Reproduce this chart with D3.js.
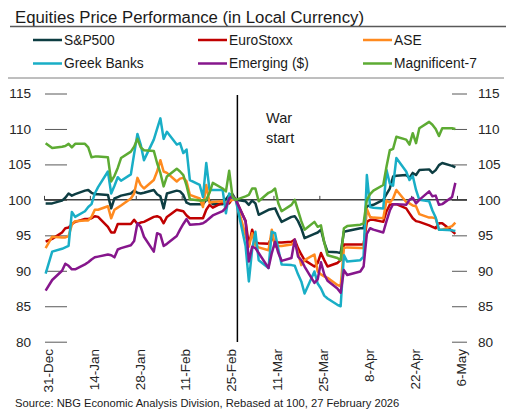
<!DOCTYPE html>
<html><head><meta charset="utf-8">
<script src="https://cdn.jsdelivr.net/npm/d3@7"></script>
<style>
body{margin:0;background:#fff;}
svg{display:block;font-family:"Liberation Sans",Arial,sans-serif;}
</style>
</head><body>
<svg id="chart" width="515" height="409"></svg>
<script>
// ---------------- DATA ----------------
const title = "Equities Price Performance (in Local Currency)";
const source = "Source: NBG Economic Analysis Division, Rebased at 100, 27 February 2026";
const warLabel = ["War", "start"];
const warDate = "2026-02-28";

const dates = [
  "2025-12-31","2026-01-02",
  "2026-01-05","2026-01-06","2026-01-07","2026-01-08","2026-01-09",
  "2026-01-12","2026-01-13","2026-01-14","2026-01-15","2026-01-16",
  "2026-01-19","2026-01-20","2026-01-21","2026-01-22","2026-01-23",
  "2026-01-26","2026-01-27","2026-01-28","2026-01-29","2026-01-30",
  "2026-02-02","2026-02-03","2026-02-04","2026-02-05","2026-02-06",
  "2026-02-09","2026-02-10","2026-02-11","2026-02-12","2026-02-13",
  "2026-02-16","2026-02-17","2026-02-18","2026-02-19","2026-02-20",
  "2026-02-23","2026-02-24","2026-02-25","2026-02-26","2026-02-27",
  "2026-03-02","2026-03-03","2026-03-04","2026-03-05","2026-03-06",
  "2026-03-09","2026-03-10","2026-03-11","2026-03-12","2026-03-13",
  "2026-03-16","2026-03-17","2026-03-18","2026-03-19","2026-03-20",
  "2026-03-23","2026-03-24","2026-03-25","2026-03-26","2026-03-27",
  "2026-03-30","2026-03-31","2026-04-01","2026-04-02",
  "2026-04-06","2026-04-07","2026-04-08","2026-04-09","2026-04-10",
  "2026-04-13","2026-04-14","2026-04-15","2026-04-16","2026-04-17",
  "2026-04-20","2026-04-21","2026-04-22","2026-04-23","2026-04-24",
  "2026-04-27","2026-04-28","2026-04-29","2026-04-30","2026-05-01",
  "2026-05-04","2026-05-05"
];

const sp500 = [
  99.5, 99.5,
  99.9, 100.3, 100.9, 100.6, 100.8,
  101.3, 101.4, 101.0, 100.8, 100.8,
  100.7, 98.8, 100.2, 100.4, 100.6,
  100.9, 101.3, 101.0, 100.9, 101.0,
  101.4, 100.8, 100.5, 98.8, 100.9,
  101.3, 101.2, 100.7, 99.6, 99.4,
  99.4, 99.4, 100.0, 99.9, 99.4,
  99.4, 100.1, 100.7, 100.8, 100.0,
  99.8, 99.3, 99.9, 99.5, 97.9,
  98.6, 98.7, 98.8, 97.8, 96.9,
  97.6, 97.7, 97.0, 96.0, 94.6,
  95.2, 95.4, 95.8, 94.0, 92.7,
  92.6, 92.5, 95.5, 95.6,
  96.0, 96.0, 99.1, 99.2, 99.3,
  100.0, 100.8, 101.6, 103.3, 103.4,
  103.5, 103.1, 103.8, 103.5, 104.2,
  104.3, 103.8, 104.2, 104.9, 105.2,
  104.8, 104.6
];

const euroStoxx = [
  94.1, 94.5,
  95.4, 96.0, 96.1, 96.6, 96.9,
  97.3, 97.3, 97.4, 97.7, 97.6,
  96.2, 95.4, 95.4, 96.6, 96.6,
  96.6, 97.2, 96.6, 96.8, 96.9,
  97.6, 97.7, 97.5, 96.7, 97.6,
  98.6, 98.5, 98.4, 97.8, 97.4,
  97.4, 97.4, 98.6, 99.3, 98.9,
  99.6, 99.5, 99.5, 100.2, 100.0,
  97.0, 93.6, 95.8, 94.0, 93.9,
  93.8, 94.8, 93.9, 94.0, 94.0,
  94.1, 94.4, 93.2, 92.3, 91.5,
  90.6, 91.1, 92.5, 91.5, 90.6,
  91.1, 91.5, 93.7, 93.7,
  93.7, 93.7, 96.9, 97.2, 97.2,
  96.9, 98.4, 99.3, 99.4, 99.4,
  98.8, 98.1, 97.4, 97.0, 96.9,
  96.4, 96.2, 96.0, 96.7, 96.7,
  95.6, 95.2
];

const ase = [
  93.2, 94.8,
  94.7, 94.7, 94.9, 96.5, 97.0,
  97.1, 97.1, 97.6, 98.6, 98.6,
  99.1, 97.4, 98.6, 98.9, 99.2,
  100.2, 100.9, 103.1, 102.1, 101.6,
  102.8, 104.0, 105.6, 104.0, 103.8,
  102.6, 103.0, 103.1, 102.6, 100.7,
  100.2, 99.0, 102.1, 99.6, 99.7,
  99.8, 99.6, 99.8, 100.0, 100.0,
  95.0, 93.4, 95.3, 93.6, 93.3,
  92.9, 95.8, 93.4, 93.5, 93.5,
  93.7, 94.1, 92.5, 90.8, 91.5,
  92.3, 89.9, 89.5, 89.2, 89.0,
  88.0, 87.8, 93.2, 93.3,
  93.2, 93.2, 98.7, 97.6, 97.5,
  97.4, 99.9, 99.6, 100.2, 101.4,
  99.7, 99.5, 99.2, 99.1, 98.0,
  97.5, 97.5, 97.4, 95.8, 95.8,
  96.3, 96.8
];

const greekBanks = [
  89.6, 92.7,
  93.1, 93.3, 93.5, 98.3, 97.6,
  98.4, 99.0, 99.4, 100.9, 101.8,
  104.0, 100.9, 102.0, 103.2, 102.7,
  103.6, 106.5, 109.3, 107.8, 105.6,
  108.5, 110.0, 111.5, 108.6, 109.6,
  107.8, 108.0, 106.6, 107.1, 102.8,
  102.1, 100.4, 105.2, 101.4, 101.4,
  101.4, 98.1, 100.9, 100.3, 100.0,
  93.5, 88.5, 93.0, 95.5, 91.5,
  90.4, 95.5, 95.3, 93.0, 90.9,
  90.8, 90.7, 89.5, 88.5, 86.8,
  89.9, 88.2, 87.5, 86.5, 86.1,
  85.2, 85.0, 92.2, 91.3,
  91.5, 92.0, 103.5, 99.0, 98.9,
  98.8, 104.2, 102.3, 102.0, 105.9,
  104.0, 102.8, 103.4, 101.4, 100.0,
  99.8, 98.5, 97.5, 95.8, 95.8,
  95.7, 95.6
];

const emerging = [
  87.2, 88.7,
  90.0, 91.0, 90.7, 90.2, 90.2,
  90.9, 91.2, 91.6, 91.9, 92.0,
  92.3, 92.2, 91.9, 93.0, 93.2,
  93.6, 94.2, 96.7, 96.2, 94.8,
  92.7, 95.3, 95.1, 93.5, 93.8,
  94.9, 95.8, 96.6, 97.3, 96.5,
  96.6, 96.7, 97.0, 97.4, 97.8,
  98.4, 98.9, 100.2, 100.6, 100.0,
  97.0, 91.3, 93.4, 93.2, 92.5,
  90.4, 92.5, 94.1, 92.5, 91.4,
  91.8, 94.4, 92.0, 91.5, 90.6,
  88.3, 88.8, 91.2, 89.5, 88.6,
  87.5, 86.9, 90.1, 89.4,
  89.9, 90.6, 95.2, 96.0, 95.8,
  95.4, 97.0, 98.5, 99.4, 99.4,
  99.3, 100.0, 100.3, 99.5, 100.0,
  101.2, 100.5, 100.6, 99.3, 99.4,
  100.4, 102.4
];

const magnificent7 = [
  108.0, 107.3,
  107.5, 107.6, 107.9, 107.4, 107.9,
  107.9, 107.4, 106.0, 106.1, 106.1,
  106.0, 102.6, 103.4, 104.5, 105.9,
  106.8, 107.5, 108.6, 107.4, 107.0,
  106.9, 105.2, 103.8, 101.9, 103.3,
  104.4, 104.0, 103.5, 102.0, 100.1,
  99.9, 99.9, 100.0, 101.0, 102.4,
  101.6, 101.2, 104.1, 100.5, 100.0,
  100.5, 100.7, 101.6, 101.6, 99.8,
  101.0, 101.2, 101.6, 99.5, 98.4,
  99.3, 100.0, 98.5, 97.0, 95.8,
  96.9, 96.2, 96.4, 94.0, 92.2,
  91.8, 91.5, 96.0, 96.3,
  96.5, 96.7, 100.0, 100.8, 101.3,
  102.1, 104.7, 107.0, 107.2, 108.9,
  108.5, 107.8, 109.4, 108.0, 110.1,
  111.0, 110.6, 110.0, 109.0, 110.1,
  110.1, 110.0
];

const seriesNames = ["S&P500", "EuroStoxx", "ASE", "Greek Banks", "Emerging ($)", "Magnificent-7"];
const seriesValues = [sp500, euroStoxx, ase, greekBanks, emerging, magnificent7];
const seriesColors = ["#0d3d42", "#c00000", "#ff8a1f", "#19aec6", "#86168c", "#5dab33"];

const yTicks = [80, 85, 90, 95, 100, 105, 110, 115];
const xTickDates = ["2025-12-31","2026-01-14","2026-01-28","2026-02-11","2026-02-25",
                    "2026-03-11","2026-03-25","2026-04-08","2026-04-22","2026-05-06"];

// ---------------- CHART ----------------
const svg = d3.select("#chart");
const parse = d3.utcParse("%Y-%m-%d");
const fmt = d3.utcFormat("%-d-%b");
const HALF_DAY = 12 * 3600 * 1000;

const x = d3.scaleUtc()
  .domain([parse("2025-12-31"), parse("2026-05-06")])
  .range([44, 457]);
const y = d3.scaleLinear().domain([80, 115]).range([341.7, 93.5]);

// title & rules
svg.append("text").attr("x", 15).attr("y", 22.5)
  .attr("font-size", 16).attr("textLength", 349).attr("lengthAdjust", "spacingAndGlyphs")
  .attr("fill", "#1a1a1a").text(title);
svg.append("line").attr("x1", 10).attr("x2", 506).attr("y1", 26.5).attr("y2", 26.5)
  .attr("stroke", "#595959").attr("stroke-width", 1.5);
svg.append("line").attr("x1", 8).attr("x2", 504).attr("y1", 78).attr("y2", 78)
  .attr("stroke", "#7f7f7f").attr("stroke-width", 1);

// legend
const legCols = [33, 198, 363];
const legRows = [40, 63.5];
seriesNames.forEach((n, i) => {
  const lx = legCols[i % 3], ly = legRows[Math.floor(i / 3)];
  svg.append("line").attr("x1", lx).attr("x2", lx + 29).attr("y1", ly).attr("y2", ly)
    .attr("stroke", seriesColors[i]).attr("stroke-width", 2.5);
  svg.append("text").attr("x", lx + 31).attr("y", ly + 4.8)
    .attr("font-size", 13.8).attr("fill", "#1a1a1a").text(n);
});

// y axes (short dashes)
const yl = svg.append("g").attr("transform", "translate(67,0)")
  .call(d3.axisLeft(y).tickValues(yTicks).tickSize(22).tickPadding(14).tickFormat(d3.format("d")));
const yr = svg.append("g").attr("transform", "translate(452,0)")
  .call(d3.axisRight(y).tickValues(yTicks).tickSize(15).tickPadding(11).tickFormat(d3.format("d")));
[yl, yr].forEach(g => {
  g.select(".domain").remove();
  g.selectAll("line").attr("stroke", "#595959").attr("stroke-width", 1);
  g.selectAll("text").attr("font-size", 13.6).attr("fill", "#262626")
    .attr("font-family", '"Liberation Sans",Arial,sans-serif');
});

// x axis along the 100 line
const y100 = y(100);
const xg = svg.append("g").attr("transform", `translate(0,${y100})`)
  .call(d3.axisTop(x).tickValues(xTickDates.map(parse)).tickSize(4).tickFormat(""));
xg.select(".domain").remove();
xg.selectAll("line").attr("stroke", "#404040").attr("stroke-width", 1);
svg.append("line").attr("x1", x.range()[0]).attr("x2", 467).attr("y1", y100).attr("y2", y100)
  .attr("stroke", "#404040").attr("stroke-width", 1.5);

// x labels (rotated)
svg.append("g").selectAll("text").data(xTickDates).join("text")
  .attr("transform", d => `translate(${x(parse(d)) + 8.8},349) rotate(-90)`)
  .attr("text-anchor", "end").attr("font-size", 13.5).attr("fill", "#262626")
  .text(d => fmt(parse(d)));

// war line & label
const wx = x(parse(warDate));
svg.append("line").attr("x1", wx).attr("x2", wx).attr("y1", 95).attr("y2", 342)
  .attr("stroke", "#000").attr("stroke-width", 1.5);
warLabel.forEach((t, i) => {
  svg.append("text").attr("x", 266).attr("y", 123 + i * 20)
    .attr("font-size", 14.5).attr("fill", "#1a1a1a").text(t);
});

// series
const line = d3.line()
  .x((d, i) => x(new Date(parse(dates[i]).getTime() + HALF_DAY)))
  .y(d => y(d));
seriesValues.forEach((vals, i) => {
  svg.append("path").datum(vals).attr("d", line)
    .attr("fill", "none").attr("stroke", seriesColors[i])
    .attr("stroke-width", 2.5).attr("stroke-linejoin", "round");
});

// source
svg.append("text").attr("x", 15).attr("y", 406.5)
  .attr("font-size", 11.2).attr("fill", "#1a1a1a").text(source);
</script>
</body></html>
